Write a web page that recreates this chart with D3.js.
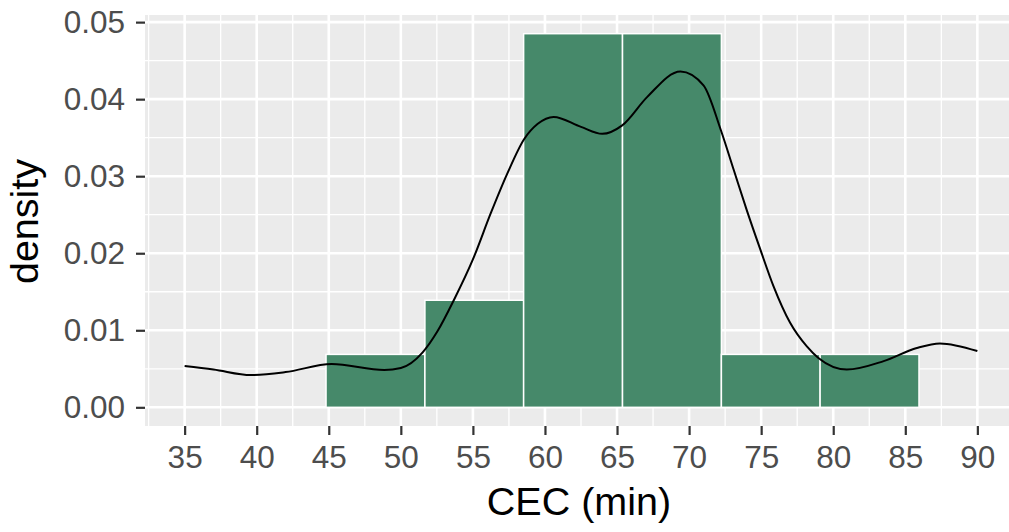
<!DOCTYPE html>
<html><head><meta charset="utf-8">
<script src="https://cdn.jsdelivr.net/npm/d3@7"></script>
<style>body{margin:0;background:#fff}svg{display:block}</style>
</head><body><svg id="c" width="1009" height="532"></svg>
<script>
const binEdges = [44.81, 51.67, 58.52, 65.38, 72.24, 79.09, 85.95];
const binDensity = [0.00687, 0.0139, 0.0485, 0.0485, 0.00687, 0.00687];
const densityX = [35, 37, 39.6, 42, 45.2, 48.85, 50, 51.5, 52.55, 53.7, 55, 56.24, 57.4, 58.55, 59.5, 60.6, 62.5, 63.97, 65.36, 67.1, 69.4, 71.0, 72.2, 73.1, 74.0, 74.94, 75.86, 77.0, 78.17, 78.97, 80.94, 83.5, 85.8, 87.4, 90];
const densityY = [0.00535, 0.0049, 0.00418, 0.00457, 0.00562, 0.00483, 0.0051, 0.0071, 0.0099, 0.0140, 0.0192, 0.0252, 0.0304, 0.0348, 0.0368, 0.0377, 0.0364, 0.0355, 0.0366, 0.0403, 0.0436, 0.0418, 0.0360, 0.0308, 0.0256, 0.0205, 0.0157, 0.0110, 0.0079, 0.0064, 0.0049, 0.0060, 0.0077, 0.0083, 0.0073];
const xTicks = [35, 40, 45, 50, 55, 60, 65, 70, 75, 80, 85, 90];
const yTicks = [0, 0.01, 0.02, 0.03, 0.04, 0.05];
const xMinor = [32.5, 37.5, 42.5, 47.5, 52.5, 57.5, 62.5, 67.5, 72.5, 77.5, 82.5, 87.5, 92.5];
const yMinor = [0.005, 0.015, 0.025, 0.035, 0.045];

const svg = d3.select('#c');
const L = 145, R = 1017, T = 15, B = 426;
const x = d3.scaleLinear().domain([32.25, 92.75]).range([L, R]);
const y = d3.scaleLinear().domain([-0.002425, 0.050925]).range([B, T]);
const FONT = 'Liberation Sans, Arial, sans-serif';

svg.append('rect').attr('x', L).attr('y', T).attr('width', R - L).attr('height', B - T).attr('fill', '#EBEBEB');
const g = svg.append('g');
g.selectAll('.xm').data(xMinor).join('line').attr('x1', d => x(d)).attr('x2', d => x(d)).attr('y1', T).attr('y2', B).attr('stroke', '#fff').attr('stroke-width', 1.3);
g.selectAll('.ym').data(yMinor).join('line').attr('y1', d => y(d)).attr('y2', d => y(d)).attr('x1', L).attr('x2', R).attr('stroke', '#fff').attr('stroke-width', 1.3);
g.selectAll('.xM').data(xTicks).join('line').attr('x1', d => x(d)).attr('x2', d => x(d)).attr('y1', T).attr('y2', B).attr('stroke', '#fff').attr('stroke-width', 2.6);
g.selectAll('.yM').data(yTicks).join('line').attr('y1', d => y(d)).attr('y2', d => y(d)).attr('x1', L).attr('x2', R).attr('stroke', '#fff').attr('stroke-width', 2.6);

svg.selectAll('.bar').data(binDensity).join('rect')
  .attr('x', (d, i) => x(binEdges[i]))
  .attr('width', (d, i) => x(binEdges[i + 1]) - x(binEdges[i]))
  .attr('y', d => y(d))
  .attr('height', d => y(0) - y(d))
  .attr('fill', '#46896A').attr('stroke', '#fff').attr('stroke-width', 1.5);

const line = d3.line().x(d => x(d[0])).y(d => y(d[1])).curve(d3.curveMonotoneX);
svg.append('path').datum(densityX.map((v, i) => [v, densityY[i]])).attr('d', line)
  .attr('fill', 'none').attr('stroke', '#000').attr('stroke-width', 2);

const xAxis = svg.append('g').attr('transform', `translate(0,${B})`)
  .call(d3.axisBottom(x).tickValues(xTicks).tickSize(9).tickPadding(11));
const yAxis = svg.append('g').attr('transform', `translate(${L},0)`)
  .call(d3.axisLeft(y).tickValues(yTicks).tickFormat(d3.format('.2f')).tickSize(9).tickPadding(11));
[xAxis, yAxis].forEach(a => {
  a.select('.domain').remove();
  a.selectAll('.tick line').attr('stroke', '#333').attr('stroke-width', 2.2);
  a.selectAll('.tick text').attr('fill', '#4D4D4D').style('font-family', FONT).style('font-size', '31.5px');
});

svg.append('text').attr('x', 579).attr('y', 515).attr('text-anchor', 'middle')
  .style('font-family', FONT).style('font-size', '39.5px').attr('fill', '#000').text('CEC (min)');
svg.append('text').attr('transform', `translate(38,${(T + B) / 2 + 1}) rotate(-90)`).attr('text-anchor', 'middle')
  .style('font-family', FONT).style('font-size', '39.5px').attr('fill', '#000').text('density');
</script></body></html>
